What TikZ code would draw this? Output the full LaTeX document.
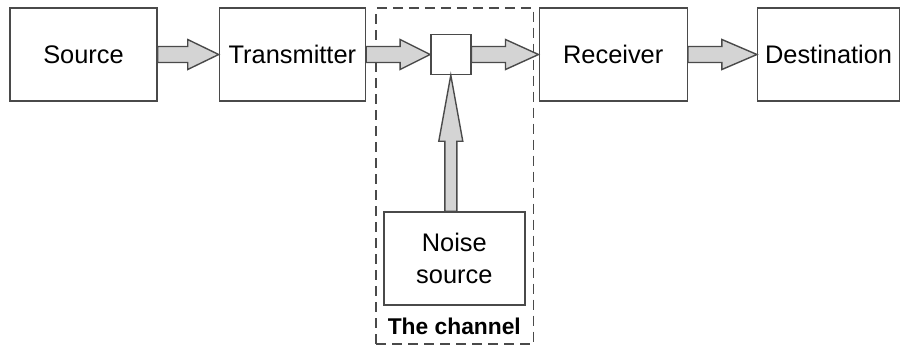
\documentclass[tikz,border=0pt]{standalone}
\usepackage{fontspec}
\setmainfont{Liberation Sans}
\usetikzlibrary{positioning,calc}

\definecolor{edgegray}{HTML}{4A4A4A}
\definecolor{arrowgray}{HTML}{D4D4D4}

% fat arrow pointing right: from node, to node, head length
\newcommand\rightblock[3]{%
  \draw[fat arrow] let \p1=(#1.east), \p2=(#2.west) in
    (\x1,\y1+4pt) -- (\x2-#3,\y1+4pt) -- (\x2-#3,\y1+7.5pt) -- (\x2,\y1)
    -- (\x2-#3,\y1-7.5pt) -- (\x2-#3,\y1-4pt) -- (\x1,\y1-4pt) -- cycle;}
% fat arrow pointing up
\newcommand\upblock[3]{%
  \draw[fat arrow] let \p1=(#1.north), \p2=(#2.south) in
    (\x2-3pt,\y1) -- (\x2-3pt,\y2-#3) -- (\x2-6pt,\y2-#3) -- (\x2,\y2)
    -- (\x2+6pt,\y2-#3) -- (\x2+3pt,\y2-#3) -- (\x2+3pt,\y1) -- cycle;}

\begin{document}
\begin{tikzpicture}[x=0.5pt,y=0.5pt,
		block/.style={rectangle,draw=edgegray,line width=0.7pt,minimum height=46.5pt,inner sep=0pt,align=center,font=\fontsize{12.7}{16}\selectfont},
		junction/.style={rectangle,draw=edgegray,line width=0.7pt,minimum size=20pt,inner sep=0pt},
		fat arrow/.style={draw=edgegray,fill=arrowgray,line width=0.7pt,line join=miter}]
		
		\useasboundingbox (0,0) rectangle (901,345);
		
		\node[block,minimum width=73.5pt] (source) at (83.5,290.5) {Source};
		\node[block,minimum width=73pt,right=30.5pt of source] (transmitter) {Transmitter};
		\node[junction,right=32pt of transmitter] (adder) {};
		\node[block,minimum width=74pt,right=33.5pt of adder] (receiver) {Receiver};
		\node[block,minimum width=71pt,right=34.5pt of receiver] (destination) {Destination};
		\node[block,minimum width=70.5pt,below=68pt of adder,xshift=1.75pt] (noise) {Noise\\source};
		\node[font=\fontsize{11.4}{13}\selectfont\bfseries,anchor=base] (chlabel) at ([yshift=-14.5pt]noise.south) {The channel};
		
		% the channel
		\draw[edgegray,line width=0.9pt,dash pattern=on 5pt off 3pt]
		($(noise.south west)+(-3.5pt,-19pt)$) rectangle ($(noise.east |- source.north)+(4pt,-0.5pt)$);
		
		\rightblock{source}{transmitter}{15.5pt}
		\rightblock{transmitter}{adder}{15pt}
		\rightblock{adder}{receiver}{16.5pt}
		\rightblock{receiver}{destination}{17.5pt}
		\upblock{noise}{adder}{33pt}
		\end{tikzpicture}
\end{document}
